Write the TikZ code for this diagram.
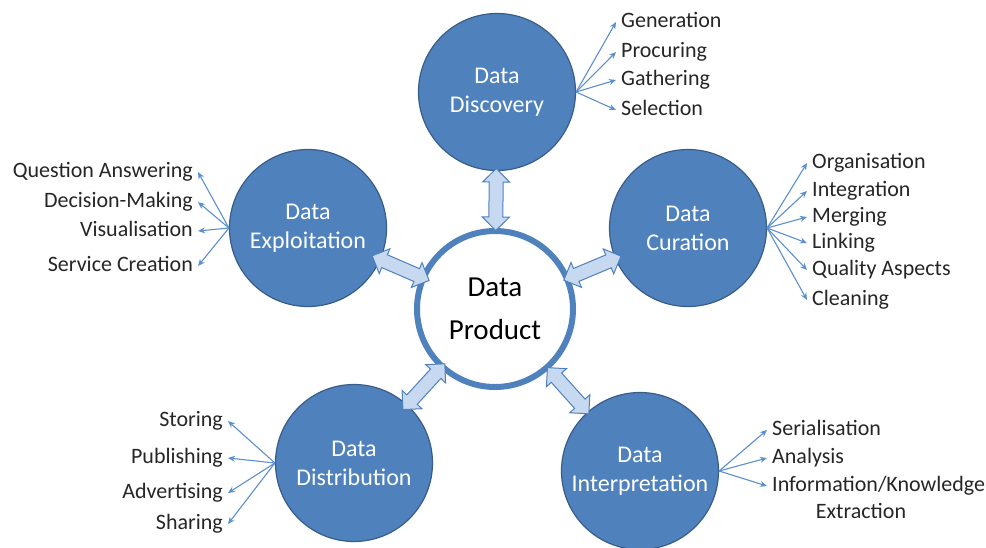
\documentclass[tikz,border=0pt]{standalone}
\usepackage{fontspec}
\setmainfont{Carlito}
\usepackage{xcolor}
\usepackage{tikz}
\usetikzlibrary{shapes.arrows,arrows.meta,calc}

\definecolor{phaseblue}{RGB}{79,129,189}
\definecolor{edgeblue}{RGB}{56,93,138}
\definecolor{paleblue}{RGB}{198,217,241}
\definecolor{fanblue}{RGB}{91,143,206}

\begin{document}
\begin{tikzpicture}[x=1pt, y=-1pt,
    phase/.style = {circle, draw=edgeblue, line width=1.2pt, fill=phaseblue, minimum size=157pt,
      inner sep=0pt, text=white, align=center, font=\fontsize{24}{29}\selectfont},
    core/.style = {circle, draw=phaseblue, line width=6pt, fill=white, minimum size=156pt,
      inner sep=0pt, align=center, font=\fontsize{29}{43}\selectfont},
    link/.style = {double arrow, draw=phaseblue, fill=paleblue, line width=1pt, minimum height=62pt,
      inner sep=6.5pt, double arrow head extend=6.5pt, sloped, midway},
    item/.style = {inner sep=5pt, text=black!85, text height=15pt, text depth=5pt,
      font=\fontsize{22}{26}\selectfont},
    fan/.style = {draw=fanblue, line width=1.1pt, -{Stealth[length=7pt,width=6pt]}}
  ]
  \useasboundingbox (0,0) rectangle (986,547);

  % the six circles
  \node[core] (prod) at (495,309) {Data\\Product};
  \node[phase] (disc) at (497,92) {Data\\Discovery};
  \node[phase] (expl) at (308,228) {Data\\Exploitation};
  \node[phase] (cur) at (688,228) {Data\\Curation};
  \node[phase] (dist) at (354,463) {Data\\Distribution};
  \node[phase] (interp) at (640,471) {Data\\Interpretation};

  % block arrows to the product
  \foreach \ph in {disc,expl,cur,dist,interp}
    \path (\ph) -- node[link] {} (prod);

  % activities of each phase
  \foreach \name/\txt/\y in {gen/Generation/22, proc/Procuring/52, gath/Gathering/80, sel/Selection/110} {
    \node[item, anchor=west] (\name) at (616,\y) {\txt};
    \draw[fan] (disc.east) -- (\name.west);
  }
  \foreach \name/\txt/\y in {org/Organisation/163, integ/Integration/191, merg/Merging/217,
      lnk/Linking/243, qual/Quality Aspects/270, clean/Cleaning/300} {
    \node[item, anchor=west] (\name) at (807,\y) {\txt};
    \draw[fan] (cur.east) -- (\name.west);
  }
  \foreach \name/\txt/\y in {ser/Serialisation/430, ana/Analysis/458, info/Information\slash Knowledge/486} {
    \node[item, anchor=west] (\name) at (767,\y) {\txt};
    \draw[fan] (interp.east) -- (\name.west);
  }
  \node[item] (ext) at (861,513) {Extraction};
  \foreach \name/\txt/\y in {stor/Storing/421, pub/Publishing/458, adv/Advertising/493, shar/Sharing/524} {
    \node[item, anchor=east] (\name) at (228,\y) {\txt};
    \draw[fan] (dist.west) -- (\name.east);
  }
  \foreach \name/\txt/\y in {qa/Question Answering/172, dec/Decision-Making/202,
      vis/Visualisation/231, serv/Service Creation/266} {
    \node[item, anchor=east] (\name) at (198,\y) {\txt};
    \draw[fan] (expl.west) -- (\name.east);
  }
\end{tikzpicture}
\end{document}
